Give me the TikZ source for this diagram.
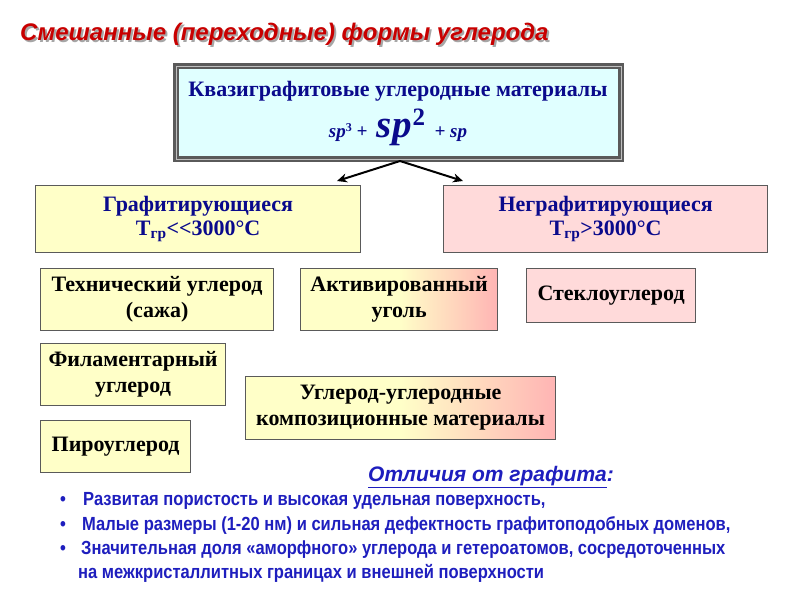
\documentclass[tikz,border=0pt]{standalone}
\usepackage{fontspec}
\setmainfont{Liberation Serif}
\newfontfamily\sansf{Liberation Sans}
\newfontfamily\narrowf[FakeStretch=0.87]{Liberation Sans}
\usetikzlibrary{arrows.meta}
\definecolor{navyt}{RGB}{10,10,140}
\definecolor{bluet}{RGB}{30,30,190}
\definecolor{titlered}{RGB}{200,0,0}
\definecolor{cyanf}{RGB}{224,255,255}
\definecolor{yellowf}{RGB}{255,255,200}
\definecolor{pinkf}{RGB}{255,218,218}
\definecolor{pinkg}{RGB}{255,180,180}
\definecolor{borderc}{RGB}{90,90,90}
\begin{document}
\begin{tikzpicture}[x=1pt,y=-1pt,
  box/.style={draw=borderc, line width=1.2pt, inner sep=0pt, align=center, anchor=north west},
  ybox/.style={box, fill=yellowf},
  pbox/.style={box, fill=pinkf},
  gbox/.style={box, left color=yellowf, right color=pinkg, middle color=yellowf},
  itemtxt/.style={font=\bfseries\fontsize{22}{26}\selectfont, text=black},
  headtxt/.style={font=\bfseries\fontsize{22}{24}\selectfont, text=navyt},
  toptxt/.style={inner sep=0pt, anchor=base, text=navyt, font=\bfseries},
  titletxt/.style={font=\sansf\bfseries\itshape\fontsize{24}{24}\selectfont, anchor=base west, inner sep=0pt},
  bl/.style={font=\narrowf\bfseries\fontsize{19}{19}\selectfont, text=bluet, anchor=base west, inner sep=0pt},
  arr/.style={line width=2pt, -{Stealth[length=10pt,width=9pt]}}
]
\useasboundingbox (0,0) rectangle (800,600);
\fill[white] (0,0) rectangle (800,600);
% title with shadow
\node[titletxt, text=titlered] (title) at (20,40)
 {\rlap{\raisebox{-2pt}{\hspace{2pt}\color{black!35}Смешанные (переходные) формы углерода}}Смешанные (переходные) формы углерода};
% top box
\node[box, fill=cyanf, draw=borderc, line width=2.5pt, double=black!25, double distance=0.8pt, minimum width=445pt, minimum height=93pt] (top) at (175,65) {};
\node[toptxt, font=\bfseries\fontsize{22}{22}\selectfont] (topl1) at (398,96) {Квазиграфитовые углеродные материалы};
\node[toptxt, font=\bfseries\itshape] (topl2) at (398,137)
 {{\fontsize{19}{19}\selectfont sp\raisebox{6pt}{\upshape\fontsize{12}{12}\selectfont 3}\ +\ \ }{\fontsize{39}{39}\selectfont sp\kern1pt\raisebox{12pt}{\upshape\fontsize{25}{25}\selectfont 2}}{\fontsize{19}{19}\selectfont\ \ + sp}};
% arrows
\coordinate (apex) at (400,161);
\coordinate (lt) at (337,181);
\coordinate (rt) at (463,181);
\draw[arr] (apex) -- (lt);
\draw[arr] (apex) -- (rt);
% second row
\node[ybox, headtxt, minimum width=325pt, minimum height=67pt] (graf) at (35,185)
 {Графитирующиеся\\T\textsubscript{гр}<{}<3000°C};
\node[pbox, headtxt, minimum width=324pt, minimum height=67pt] (ngraf) at (443,185)
 {Неграфитирующиеся\\T\textsubscript{гр}>3000°C};
% items
\node[ybox, itemtxt, minimum width=233pt, minimum height=62pt] (tech) at (40,268) {Технический углерод\\(сажа)};
\node[gbox, itemtxt, minimum width=197pt, minimum height=62pt] (act) at (300,268) {Активированный\\уголь};
\node[pbox, itemtxt, minimum width=169pt, minimum height=54pt] (glass) at (526,268) {Стеклоуглерод};
\node[ybox, itemtxt, minimum width=185pt, minimum height=62pt] (fil) at (40,343) {Филаментарный\\углерод};
\node[gbox, itemtxt, minimum width=310pt, minimum height=63pt] (cc) at (245,376) {Углерод-углеродные\\композиционные материалы};
\node[ybox, itemtxt, minimum width=150pt, minimum height=52pt] (pyro) at (40,420) {Пироуглерод};
% bottom text
\node[bl, font=\sansf\bfseries\itshape\fontsize{21}{21}\selectfont] (head) at (368,481) {\underline{Отличия от графита}:};
\node[bl] (b1) at (60,505) {•};
\node[bl] (t1) at (83,505) {Развитая пористость и высокая удельная поверхность,};
\node[bl] (b2) at (60,530) {•};
\node[bl] (t2) at (82,530) {Малые размеры (1-20 нм) и сильная дефектность графитоподобных доменов,};
\node[bl] (b3) at (60,554) {•};
\node[bl] (t3) at (81,554) {Значительная доля «аморфного» углерода и гетероатомов, сосредоточенных};
\node[bl] (t4) at (78,578) {на межкристаллитных границах и внешней поверхности};
\end{tikzpicture}
\end{document}
